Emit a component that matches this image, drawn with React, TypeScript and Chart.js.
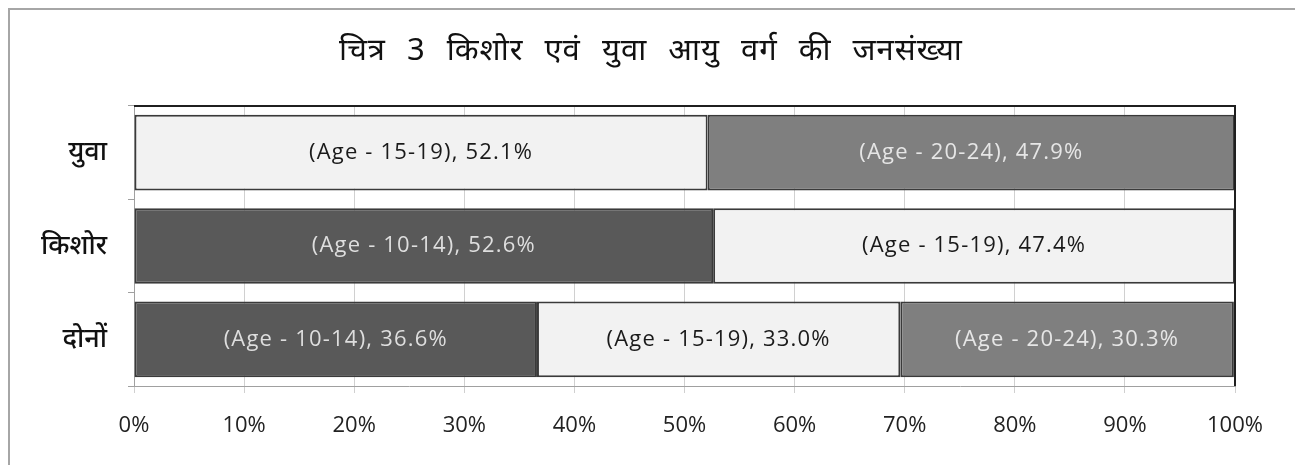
import React, { useEffect, useRef } from "react";
import { Chart, registerables } from "chart.js";

Chart.register(...registerables);

const categories = ["युवा", "किशोर", "दोनों"];
const groupNames = ["(Age - 10-14)", "(Age - 15-19)", "(Age - 20-24)"];
const age10to14 = [null, 52.6, 36.6];
const age15to19 = [52.1, 47.4, 33.0];
const age20to24 = [47.9, null, 30.3];
const xTicks = [0, 10, 20, 30, 40, 50, 60, 70, 80, 90, 100];
const titleText = "चित्र 3 किशोर एवं युवा आयु वर्ग की जनसंख्या";

const fills = ["#595959", "#f2f2f2", "#7f7f7f"];
const labelColors = ["#dedede", "#1a1a1a", "#e6e6e6"];

const framePlugin = {
  id: "frame",
  beforeDraw(chart: any) {
    const ctx = chart.ctx;
    ctx.save();
    ctx.fillStyle = "#ffffff";
    ctx.fillRect(0, 0, chart.width, chart.height);
    ctx.strokeStyle = "#a6a6a6";
    ctx.lineWidth = 2;
    ctx.beginPath();
    ctx.moveTo(9, chart.height);
    ctx.lineTo(9, 9);
    ctx.lineTo(chart.width, 9);
    ctx.stroke();
    ctx.fillStyle = "#111";
    ctx.font = "31px 'Noto Sans', sans-serif";
    (ctx as any).letterSpacing = "1px";
    (ctx as any).wordSpacing = "12px";
    ctx.textAlign = "center";
    ctx.textBaseline = "middle";
    ctx.fillText(titleText, 651, 51);
    ctx.restore();
  },
  afterDatasetsDraw(chart: any) {
    const ctx = chart.ctx;
    const a = chart.chartArea;
    ctx.save();
    ctx.strokeStyle = "#1f1f1f";
    ctx.lineWidth = 2;
    ctx.beginPath();
    ctx.moveTo(a.left, a.top);
    ctx.lineTo(a.right, a.top);
    ctx.lineTo(a.right, a.bottom);
    ctx.stroke();
    ctx.font = "22px 'Open Sans', sans-serif";
    (ctx as any).letterSpacing = "1.2px";
    ctx.textAlign = "center";
    ctx.textBaseline = "middle";
    chart.data.datasets.forEach((ds: any, di: number) => {
      const meta = chart.getDatasetMeta(di);
      meta.data.forEach((el: any, i: number) => {
        const v = ds.data[i];
        if (v == null) return;
        const cx = (el.x + el.base) / 2;
        ctx.fillStyle = labelColors[di];
        ctx.fillText(`${groupNames[di]}, ${v.toFixed(1)}%`, cx, el.y);
      });
    });
    ctx.restore();
  },
};

export default function App() {
  const ref = useRef<HTMLCanvasElement>(null);
  useEffect(() => {
    if (!ref.current) return;
    const datasets = [age10to14, age15to19, age20to24].map((d, i) => ({
      label: groupNames[i],
      data: d,
      backgroundColor: fills[i],
      borderColor: "#3a3a3a",
      borderWidth: 2,
      borderSkipped: false,
      barPercentage: 0.81,
      categoryPercentage: 1,
    }));
    const chart = new Chart(ref.current, {
      type: "bar",
      data: { labels: categories, datasets },
      options: {
        indexAxis: "y",
        animation: false,
        responsive: false,
        layout: { padding: { left: 0, top: 106, right: 60, bottom: 0 } },
        plugins: { legend: { display: false }, tooltip: { enabled: false }, title: { display: false } },
        scales: {
          x: {
            stacked: true,
            min: 0,
            max: 100,
            afterBuildTicks: (s: any) => { s.ticks = xTicks.map((v) => ({ value: v })); },
            afterFit: (s: any) => { s.height = 79; },
            ticks: {
              callback: (v: any) => `${v}%`,
              color: "#222",
              font: { family: "'Open Sans', sans-serif", size: 22 },
              padding: 20,
              maxRotation: 0,
            },
            grid: { color: "#d0d0d0", tickLength: 7, lineWidth: 1 },
            border: { color: "#a0a0a0", width: 1 },
          },
          y: {
            stacked: true,
            afterFit: (s: any) => { s.width = 134; },
            ticks: {
              color: "#111",
              font: { family: "'Noto Sans', sans-serif", size: 27, weight: "500" },
              padding: 21,
            },
            grid: { drawOnChartArea: false, tickLength: 6, color: "#a0a0a0" },
            border: { color: "#a0a0a0", width: 1 },
          },
        },
      },
      plugins: [framePlugin],
    });
    return () => chart.destroy();
  }, []);
  return (
    <div style={{ position: "absolute", left: 0, top: 0, width: 1295, height: 465 }}>
      <canvas ref={ref} width={1295} height={465} style={{ display: "block" }} />
    </div>
  );
}
